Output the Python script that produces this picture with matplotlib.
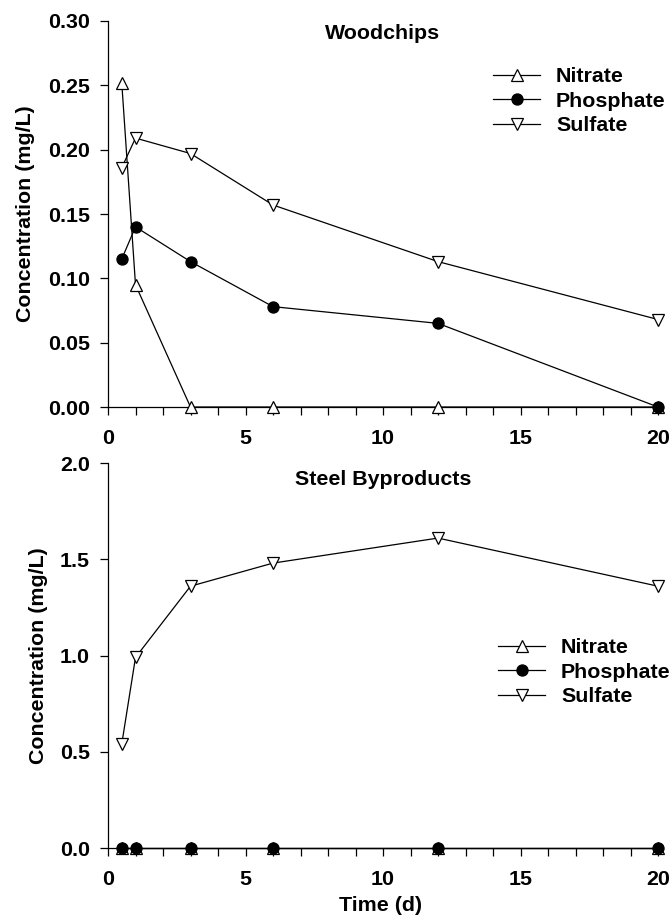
import matplotlib
matplotlib.use("Agg")
import matplotlib.pyplot as plt
from matplotlib.ticker import MultipleLocator

plt.rcParams['font.family'] = ['Liberation Sans', 'DejaVu Sans']
plt.rcParams['font.weight'] = 'bold'

time_d = [0.5, 1, 3, 6, 12, 20]

wood_nitrate = [0.252, 0.095, 0.0, 0.0, 0.0, 0.0]
wood_phosphate = [0.115, 0.140, 0.113, 0.078, 0.065, 0.0]
wood_sulfate = [0.186, 0.209, 0.197, 0.157, 0.113, 0.068]

steel_nitrate = [0.0, 0.0, 0.0, 0.0, 0.0, 0.0]
steel_phosphate = [0.0, 0.0, 0.0, 0.0, 0.0, 0.0]
steel_sulfate = [0.54, 0.99, 1.36, 1.48, 1.61, 1.36]

series_names = ["Nitrate", "Phosphate", "Sulfate"]
panel_titles = ["Woodchips", "Steel Byproducts"]
x_ticks = [0, 5, 10, 15, 20]
top_yticks = [0.00, 0.05, 0.10, 0.15, 0.20, 0.25, 0.30]
bot_yticks = [0.0, 0.5, 1.0, 1.5, 2.0]

W, H = 672, 917
fig = plt.figure(figsize=(W / 100, H / 100), dpi=100)

def fx(px):
    return px / W

def fy(py):
    return 1 - py / H

ax1 = fig.add_axes([fx(108), fy(407), fx(658) - fx(108), fy(21) - fy(407)])
ax2 = fig.add_axes([fx(108), fy(848), fx(658) - fx(108), fy(463) - fy(848)])

styles = [
    dict(marker='^', mfc='white', mec='black', ms=9),
    dict(marker='o', mfc='black', mec='black', ms=8),
    dict(marker='v', mfc='white', mec='black', ms=9),
]

FS = 15.4

def draw(ax, data, title, yticks, ymax, fmt, legend_pos, ylabel_x):
    for vals, name, st in zip(data, series_names, styles):
        ax.plot(time_d, vals, color='black', lw=0.9, mew=0.9, label=name,
                clip_on=False, zorder=3, **st)
    ax.set_xlim(0, 20)
    ax.set_ylim(0, ymax)
    ax.set_xticks(x_ticks)
    ax.xaxis.set_minor_locator(MultipleLocator(1))
    ax.set_yticks(yticks)
    ax.set_yticklabels([fmt.format(v) for v in yticks])
    for s in ['top', 'right']:
        ax.spines[s].set_visible(False)
    for s in ['left', 'bottom']:
        ax.spines[s].set_linewidth(0.9)
    ax.tick_params(axis='both', which='both', direction='out', length=6, width=0.9,
                   labelsize=FS)
    ax.tick_params(axis='x', pad=10)
    ax.tick_params(axis='y', pad=7)
    for lab in ax.get_xticklabels() + ax.get_yticklabels():
        lab.set_fontweight('bold')
    ax.set_ylabel("Concentration (mg/L)", fontsize=FS, fontweight='bold')
    ax.yaxis.set_label_coords(ylabel_x, 0.5)
    ax.text(0.5, title[1], title[0], transform=ax.transAxes, ha='center', va='center',
            fontsize=FS, fontweight='bold')
    leg = ax.legend(loc='upper left', bbox_to_anchor=legend_pos,
                    bbox_transform=fig.transFigure, frameon=False, fontsize=FS,
                    borderpad=0, borderaxespad=0, handlelength=2.2,
                    handletextpad=0.75, labelspacing=0.26)
    for t in leg.get_texts():
        t.set_fontweight('bold')

draw(ax1, [wood_nitrate, wood_phosphate, wood_sulfate], (panel_titles[0], 0.968),
     top_yticks, 0.30, "{:.2f}", (fx(493), fy(67)), -0.132)
draw(ax2, [steel_nitrate, steel_phosphate, steel_sulfate], (panel_titles[1], 0.958),
     bot_yticks, 2.0, "{:.1f}", (fx(498), fy(638)), -0.11)

ax2.set_xlabel("Time (d)", fontsize=FS, fontweight='bold')
ax2.xaxis.set_label_coords(0.495, -0.125)

fig.savefig("out.png", dpi=100)
